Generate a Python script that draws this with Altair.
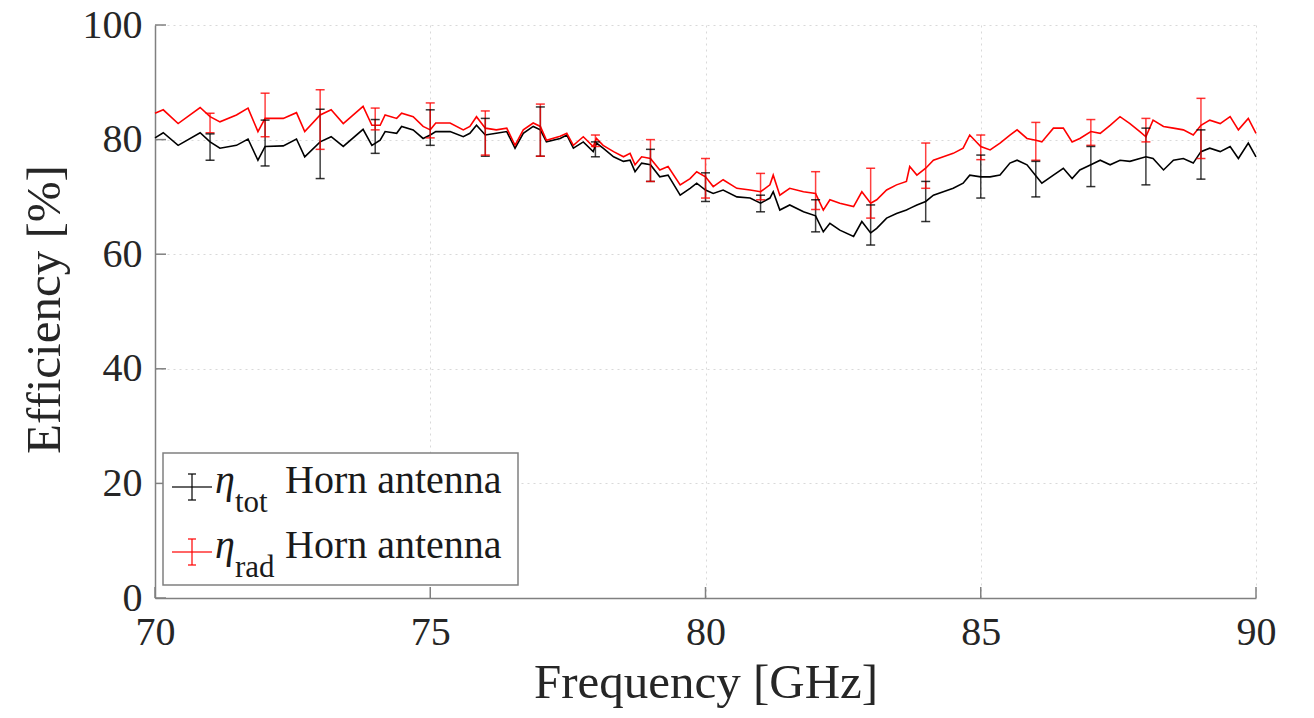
import altair as alt
import pandas as pd

# ---- data ----
freq = [70.0, 70.15, 70.42, 70.82, 71.0, 71.18, 71.48, 71.69, 71.87, 72.0, 72.33, 72.57, 72.72, 73.0, 73.2, 73.42, 73.78, 73.94,
        74.09, 74.18, 74.39, 74.48, 74.69, 74.87, 75.0, 75.1, 75.36, 75.6, 75.72, 75.84, 76.0, 76.2, 76.39, 76.54, 76.69, 76.87, 77.0, 77.11, 77.36, 77.48, 77.6, 77.78, 77.96,
        78.02, 78.14, 78.33, 78.51, 78.63, 78.72, 78.84, 79.0, 79.17, 79.32, 79.54, 79.72, 79.84, 80.0, 80.14, 80.32, 80.57, 80.81, 81.0, 81.17, 81.23, 81.35, 81.53, 81.78, 82.0,
        82.14, 82.26, 82.44, 82.69, 82.84, 83.0, 83.11, 83.29, 83.47, 83.65, 83.71, 83.84, 84.0, 84.14, 84.32, 84.5, 84.68, 84.8, 85.0, 85.17, 85.35, 85.53, 85.66, 85.84, 86.0,
        86.11, 86.32, 86.5, 86.66, 86.8, 87.0, 87.17, 87.35, 87.53, 87.71, 87.89, 88.0, 88.13, 88.32, 88.5, 88.68, 88.86, 89.0, 89.16, 89.35, 89.53, 89.68, 89.86, 90.0]

eta_tot = [80.3, 81.2, 79.0, 81.2, 79.6, 78.5, 79.0, 80.1, 76.4, 78.8, 78.9, 80.1, 77.0, 79.6, 80.5, 78.8, 81.8, 79.0,
           79.9, 81.4, 81.1, 82.3, 81.7, 80.2, 80.8, 81.4, 81.4, 80.5, 81.1, 82.5, 80.8, 81.1, 81.4, 78.5, 81.1, 82.3, 81.7, 79.6, 80.2, 80.8, 78.5, 79.6, 77.9,
           79.4, 78.5, 77.0, 76.2, 76.4, 74.4, 75.9, 75.6, 73.5, 73.8, 70.3, 71.5, 72.4, 71.2, 70.6, 71.2, 70.0, 69.8, 68.9, 69.8, 70.9, 67.7, 68.6, 67.4, 66.7,
           63.9, 65.4, 64.2, 63.1, 65.7, 63.7, 64.5, 66.3, 67.1, 67.7, 68.0, 68.6, 69.2, 70.3, 70.9, 71.5, 72.4, 73.8, 73.5, 73.5, 73.8, 75.9, 76.4, 75.6, 73.7,
           72.4, 73.8, 75.0, 73.2, 74.7, 75.6, 76.4, 75.6, 76.4, 76.2, 76.7, 77.0, 76.7, 74.7, 76.4, 76.7, 75.9, 77.9, 78.5, 77.9, 78.8, 76.7, 79.4, 77.0]

eta_rad = [84.6, 85.2, 82.8, 85.6, 84.0, 83.1, 84.3, 85.5, 81.4, 83.7, 83.7, 84.7, 81.4, 84.3, 85.2, 82.8, 85.8, 82.5,
           82.5, 84.3, 83.7, 84.6, 84.0, 82.3, 81.7, 82.9, 82.9, 81.7, 82.3, 84.0, 82.0, 81.7, 82.0, 79.0, 81.7, 82.9, 82.3, 79.9, 80.6, 81.1, 79.0, 80.5, 78.8,
           80.2, 79.0, 77.9, 77.0, 77.6, 75.6, 77.0, 76.7, 74.7, 75.3, 72.1, 73.2, 74.4, 73.5, 71.8, 73.0, 71.5, 71.2, 70.9, 72.1, 73.8, 70.3, 71.5, 70.9, 70.6,
           67.7, 69.5, 68.9, 68.3, 70.9, 68.9, 69.5, 71.2, 72.1, 72.7, 75.3, 73.8, 75.0, 76.4, 77.0, 77.6, 78.5, 80.8, 78.8, 78.2, 79.4, 80.8, 81.7, 80.2, 79.9,
           79.6, 82.0, 82.0, 79.6, 80.2, 81.4, 81.1, 82.5, 84.0, 82.8, 81.4, 80.5, 83.4, 82.3, 82.0, 81.7, 80.8, 82.5, 83.4, 82.8, 84.0, 81.7, 83.7, 81.1]

err_freq = [71, 72, 73, 74, 75, 76, 77, 78, 79, 80, 81, 82, 83, 84, 85, 86, 87, 88, 89]
tot_lo = [76.4, 75.4, 73.2, 77.6, 79.0, 77.1, 77.1, 77.0, 72.7, 69.2, 67.4, 63.9, 61.6, 65.7, 69.8, 70.0, 71.8, 72.1, 73.1]
tot_hi = [81.0, 83.4, 85.3, 83.5, 85.2, 83.7, 85.7, 79.6, 78.3, 74.2, 70.3, 69.5, 68.6, 72.7, 77.3, 76.2, 78.8, 82.0, 81.7]
rad_lo = [81.2, 80.5, 78.3, 81.7, 80.3, 77.3, 77.1, 78.8, 72.7, 69.8, 69.5, 67.8, 66.3, 71.5, 76.5, 76.4, 79.0, 79.6, 76.7]
rad_hi = [84.6, 88.1, 88.7, 85.5, 86.4, 85.0, 86.2, 80.8, 80.0, 76.7, 74.1, 74.4, 75.0, 79.4, 80.8, 83.0, 83.5, 83.7, 87.2]

x_ticks = [70, 75, 80, 85, 90]
y_ticks = [0, 20, 40, 60, 80, 100]

series_names = ["tot", "rad"]
series_colors = ["#000000", "#ff0000"]

FONT = "Liberation Serif"
W, H = 1101, 573

lines_df = pd.concat([
    pd.DataFrame({"f": freq, "v": eta_tot, "s": "tot"}),
    pd.DataFrame({"f": freq, "v": eta_rad, "s": "rad"}),
])
err_df = pd.concat([
    pd.DataFrame({"f": err_freq, "lo": tot_lo, "hi": tot_hi, "s": "tot"}),
    pd.DataFrame({"f": err_freq, "lo": rad_lo, "hi": rad_hi, "s": "rad"}),
])

xs = alt.Scale(domain=[70, 90], nice=False, zero=False)
ys = alt.Scale(domain=[0, 100], nice=False)
cs = alt.Scale(domain=series_names, range=series_colors)

base_x = alt.X("f:Q", scale=xs,
               axis=alt.Axis(values=x_ticks, title="Frequency [GHz]", format="d",
                             grid=True, gridDash=[2, 4], gridColor="#d9d9d9", labelFlush=False,
                             titleY=99, titleBaseline="alphabetic", labelPadding=14))
base_y = alt.Y("v:Q", scale=ys,
               axis=alt.Axis(values=y_ticks, title="Efficiency [%]", format="d",
                             grid=True, gridDash=[2, 4], gridColor="#d9d9d9", labelFlush=False,
                             titleX=-96, titleY=284, titleBaseline="alphabetic", labelPadding=13))

lines = alt.Chart(lines_df).mark_line(strokeWidth=1.6).encode(
    x=base_x, y=base_y,
    color=alt.Color("s:N", scale=cs, legend=None),
    detail="s:N",
    order=alt.Order("f:Q"),
)

err_rule = alt.Chart(err_df).mark_rule(strokeWidth=1.5, opacity=0.75).encode(
    x=alt.X("f:Q", scale=xs), y=alt.Y("lo:Q", scale=ys), y2="hi:Q",
    color=alt.Color("s:N", scale=cs, legend=None),
)
err_cap_lo = alt.Chart(err_df).mark_tick(orient="horizontal", size=9, thickness=1.5, opacity=0.8).encode(
    x=alt.X("f:Q", scale=xs), y=alt.Y("lo:Q", scale=ys),
    color=alt.Color("s:N", scale=cs, legend=None),
)
err_cap_hi = alt.Chart(err_df).mark_tick(orient="horizontal", size=9, thickness=1.5, opacity=0.8).encode(
    x=alt.X("f:Q", scale=xs), y=alt.Y("hi:Q", scale=ys),
    color=alt.Color("s:N", scale=cs, legend=None),
)

# inward tick marks
yt = alt.Chart(pd.DataFrame({"t": y_ticks})).mark_rule(color="#808080", strokeWidth=1.5).encode(
    y=alt.Y("t:Q", scale=ys), x=alt.value(0), x2=alt.value(11))
xt = alt.Chart(pd.DataFrame({"t": x_ticks})).mark_rule(color="#808080", strokeWidth=1.5).encode(
    x=alt.X("t:Q", scale=xs), y=alt.value(H), y2=alt.value(H - 11))

# manual legend
one = pd.DataFrame({"a": [0]})
leg_box = alt.Chart(one).mark_rect(fill="white", stroke="#808080", strokeWidth=1.5).encode(
    x=alt.value(8), x2=alt.value(363), y=alt.value(428), y2=alt.value(560))

legend_layers = [leg_box]
rows = [("tot", "#000000", 462), ("rad", "#ff0000", 527)]
for name, col, cy in rows:
    legend_layers.append(alt.Chart(one).mark_rule(color=col, strokeWidth=1.5, opacity=0.8).encode(
        x=alt.value(17), x2=alt.value(57), y=alt.value(cy)))
    legend_layers.append(alt.Chart(one).mark_rule(color=col, strokeWidth=1.5, opacity=0.8).encode(
        x=alt.value(37), y=alt.value(cy - 13), y2=alt.value(cy + 13)))
    for dy in (-13, 13):
        legend_layers.append(alt.Chart(one).mark_rule(color=col, strokeWidth=1.5, opacity=0.8).encode(
            x=alt.value(33), x2=alt.value(41), y=alt.value(cy + dy)))
    legend_layers.append(alt.Chart(one).mark_text(
        font=FONT, fontSize=40, fontStyle="italic", align="left", baseline="alphabetic", color="#1a1a1a"
    ).encode(x=alt.value(60), y=alt.value(cy + 6), text=alt.value("η")))
    legend_layers.append(alt.Chart(one).mark_text(
        font=FONT, fontSize=31, align="left", baseline="alphabetic", color="#1a1a1a"
    ).encode(x=alt.value(80), y=alt.value(cy + 25), text=alt.value(name)))
    legend_layers.append(alt.Chart(one).mark_text(
        font=FONT, fontSize=40, align="left", baseline="alphabetic", color="#1a1a1a"
    ).encode(x=alt.value(130), y=alt.value(cy + 6), text=alt.value("Horn antenna")))

chart = alt.layer(
    lines, err_rule, err_cap_lo, err_cap_hi, yt, xt, *legend_layers
).properties(
    width=W, height=H,
    autosize=alt.AutoSizeParams(type="none"),
    padding={"left": 147, "top": 17, "right": 50, "bottom": 112},
).configure(
    background="white",
    font=FONT,
).configure_view(
    stroke=None,
).configure_axis(
    labelFont=FONT, labelFontSize=40, labelColor="#262626",
    titleFont=FONT, titleFontSize=49, titleColor="#262626", titleFontWeight="normal",
    domainColor="#808080", domainWidth=1.5,
    ticks=False, tickSize=0,
)

chart.save("out.html", embed_options={"renderer": "svg", "actions": False})
